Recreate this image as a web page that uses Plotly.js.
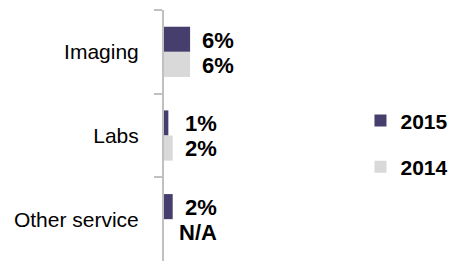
<!DOCTYPE html>
<html>
<head>
<meta charset="utf-8">
<script src="https://cdn.plot.ly/plotly-3.0.1.min.js"></script>
<style>html,body{margin:0;padding:0;background:#fff;}#chart{width:454px;height:261px;}</style>
</head>
<body>
<div id="chart"></div>
<script>
const categories = ['Imaging', 'Labs', 'Other service'];
const seriesNames = ['2015', '2014'];
const values2015 = [6, 1, 2];
const values2014 = [6, 2, null];
const labels2015 = ['6%', '1%', '2%'];
const labels2014 = ['6%', '2%', 'N/A'];

const colors = ['#463f6d', '#d9d9d9'];

const traces = [
  {type: 'bar', orientation: 'h', name: seriesNames[0], y: categories, x: values2015,
   marker: {color: colors[0]}, legendgroup: 'a', hoverinfo: 'none'},
  {type: 'bar', orientation: 'h', name: seriesNames[1], y: categories, x: values2014,
   marker: {color: colors[1]}, legendgroup: 'b', hoverinfo: 'none'}
];

const annotations = [];
categories.forEach((c, i) => {
  const m = Math.max(values2015[i] || 0, values2014[i] || 0);
  [[labels2015[i], -0.14], [labels2014[i], 0.16]].forEach(([t, off]) => {
    annotations.push({
      x: m, y: i + off, xref: 'x', yref: 'y', text: t, showarrow: false,
      xanchor: 'right', yanchor: 'middle', xshift: 46,
      font: {family: 'Liberation Sans, Arial, sans-serif', size: 22, color: '#000', weight: 'bold'}
    });
  });
});

const layout = {
  width: 454, height: 261,
  margin: {l: 164, r: 100, t: 10, b: 0},
  paper_bgcolor: '#fff', plot_bgcolor: '#fff',
  barmode: 'group', bargap: 0.4, bargroupgap: 0,
  showlegend: true,
  legend: {x: 1.11, y: 0.64, xanchor: 'left', yanchor: 'top', traceorder: 'grouped',
    tracegroupgap: 16, font: {family: 'Liberation Sans, Arial, sans-serif', size: 21, color: '#000', weight: 'bold'}},
  xaxis: {range: [0, 40.7], visible: false, fixedrange: true},
  yaxis: {type: 'category', autorange: 'reversed', showline: true, linecolor: '#c0c0c0', linewidth: 2,
    ticks: 'outside', ticklen: 8, tickcolor: '#c0c0c0', tickwidth: 2, tickson: 'boundaries',
    ticklabelstandoff: 19, showgrid: false, zeroline: false,
    tickfont: {family: 'Liberation Sans, Arial, sans-serif', size: 21, color: '#000'}},
  annotations: annotations
};

Plotly.newPlot('chart', traces, layout, {staticPlot: true});
</script>
</body>
</html>
